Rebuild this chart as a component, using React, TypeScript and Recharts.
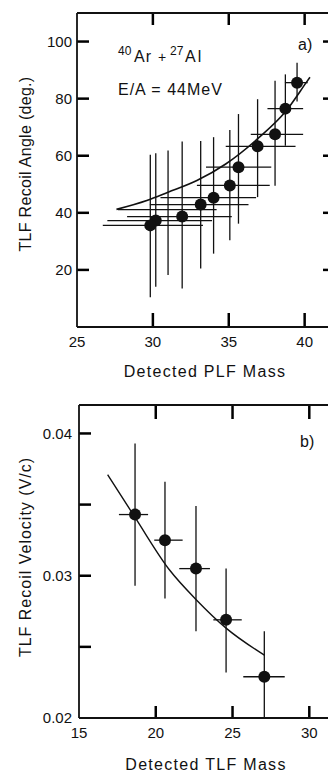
import { ComposedChart, Scatter, Line, XAxis, YAxis, ErrorBar, ReferenceLine } from 'recharts'

// two-panel TLF recoil plot, a) angle vs PLF mass, b) velocity vs TLF mass

const FONT = '"Liberation Sans", Arial, sans-serif'
const INK = '#111'

// ---- panel a)
const plfMass = [39.5, 38.73, 38.05, 36.9, 35.64, 35.07, 34.0, 33.15, 31.93, 30.19, 29.83]
const plfMassLow = [38.7, 37.55, 36.45, 34.8, 33.5, 32.9, 30.5, 29.8, 28.3, 27.0, 26.7]
const plfMassHigh = [40.2, 39.9, 39.9, 39.4, 37.8, 37.7, 36.8, 36.3, 35.2, 33.9, 33.3]
const recoilAngle = [85.6, 76.5, 67.5, 63.3, 56.0, 49.6, 45.3, 42.9, 38.7, 37.3, 35.6]
const angleLow = [79.0, 63.5, 49.5, 45.5, 36.2, 30.4, 25.7, 20.5, 13.5, 14.1, 10.4]
const angleHigh = [92.6, 88.5, 86.3, 79.8, 74.6, 69.0, 66.5, 65.2, 65.0, 60.9, 60.3]
// one cross in the plot has no dot on it
const bareMass = [31.0]
const bareMassLow = [27.7]
const bareMassHigh = [34.2]
const bareAngle = [41.1]
const bareAngleLow = [18.2]
const bareAngleHigh = [61.8]
// fitted curve
const angleFitMass = [27.6, 29.6, 31.0, 32.9, 34.8, 37.0, 38.7, 40.1, 40.35]
const angleFit = [41.2, 44.3, 47.2, 51.3, 57.1, 66.4, 75.2, 85.6, 87.5]
const plfTicks = [25, 30, 35, 40]
const plfInnerTicks = [30, 35, 40]
const angleTicks = [20, 40, 60, 80, 100]

// ---- panel b)
const tlfMass = [18.65, 20.6, 22.62, 24.58, 27.07]
const tlfMassLow = [17.6, 19.9, 21.53, 23.75, 25.7]
const tlfMassHigh = [19.5, 21.75, 23.53, 25.6, 28.4]
const recoilVel = [0.0343, 0.0325, 0.0305, 0.0269, 0.0229]
const velLow = [0.0293, 0.0284, 0.0261, 0.0232, 0.02]
const velHigh = [0.0393, 0.0366, 0.0349, 0.0305, 0.0261]
const velFitMass = [16.87, 18.65, 20.9, 22.65, 24.6, 27.1]
const velFit = [0.0371, 0.0341, 0.0304, 0.0283, 0.0263, 0.0244]
const tlfTicks = [15, 20, 25, 30]
const tlfInnerTicks = [20, 25, 30]
const velTicks = [0.02, 0.03, 0.04]
const velInnerTicks = [0.025, 0.03, 0.035, 0.04]

const rows = (x: number[], xl: number[], xh: number[], y: number[], yl: number[], yh: number[]) =>
  x.map((v, i) => ({ x: v, y: y[i], ex: [v - xl[i], xh[i] - v], ey: [y[i] - yl[i], yh[i] - y[i]] }))
const curve = (x: number[], y: number[]) => x.map((v, i) => ({ x: v, y: y[i] }))

const angleData = rows(plfMass, plfMassLow, plfMassHigh, recoilAngle, angleLow, angleHigh)
const bareData = rows(bareMass, bareMassLow, bareMassHigh, bareAngle, bareAngleLow, bareAngleHigh)
const angleCurve = curve(angleFitMass, angleFit)
const velData = rows(tlfMass, tlfMassLow, tlfMassHigh, recoilVel, velLow, velHigh)
const velCurve = curve(velFitMass, velFit)

const dot = (p: any) => <circle cx={p.cx} cy={p.cy} r={6} fill={INK} />
const noDot = () => <g />
const stroke = { stroke: INK, strokeWidth: 1.8 }
const tickStroke = { stroke: '#000', strokeWidth: 2.5 }
const tickText = { fontSize: 15, fontFamily: FONT, fill: INK }
const bar = { stroke: INK, strokeWidth: 1.3, width: 0, isAnimationActive: false }
const labelAxis = { axisLine: stroke, tickLine: false, tickSize: 0, interval: 0 as const, allowDataOverflow: true }
const frameAxis = { axisLine: stroke, tickLine: false, tick: false, interval: 0 as const, allowDataOverflow: true }

type Box = { x: [number, number]; y: [number, number]; w: number; h: number }
type Pt = { x: number; y: number }

// inward tick marks of the frame, lengths given in px and turned into data units of the panel
function innerTicks(b: Box, xs: number[], ys: number[], len: { bottom: number; top: number; side: number }) {
  const dx = (px: number) => (px * (b.x[1] - b.x[0])) / b.w
  const dy = (px: number) => (px * (b.y[1] - b.y[0])) / b.h
  const segs: [Pt, Pt][] = []
  xs.forEach((x) => {
    segs.push([{ x, y: b.y[0] }, { x, y: b.y[0] + dy(len.bottom) }])
    segs.push([{ x, y: b.y[1] - dy(len.top) }, { x, y: b.y[1] }])
  })
  ys.forEach((y) => {
    segs.push([{ x: b.x[0], y }, { x: b.x[0] + dx(len.side), y }])
    segs.push([{ x: b.x[1] - dx(len.side), y }, { x: b.x[1], y }])
  })
  return segs.map((s, i) => (
    <ReferenceLine key={`t${i}`} xAxisId="b" yAxisId="l" segment={s} ifOverflow="visible" {...tickStroke} />
  ))
}

const angleBox: Box = { x: [25, 42], y: [0, 110], w: 258, h: 314 }
const velBox: Box = { x: [15, 32], y: [0.02, 0.042], w: 261, h: 313 }

function AnglePanel() {
  return (
    <ComposedChart width={348} height={400} margin={{ top: 12, right: 12, bottom: 0, left: 0 }}>
      <XAxis xAxisId="b" dataKey="x" type="number" domain={angleBox.x} ticks={plfTicks} height={73}
        tickMargin={9} tick={tickText} {...labelAxis} />
      <XAxis xAxisId="t" orientation="top" dataKey="x" type="number" domain={angleBox.x} height={1} {...frameAxis} />
      <YAxis yAxisId="l" type="number" domain={angleBox.y} ticks={angleTicks} width={77}
        tickMargin={5} tick={tickText} {...labelAxis} />
      <YAxis yAxisId="r" orientation="right" type="number" domain={angleBox.y} width={1} {...frameAxis} />
      {innerTicks(angleBox, plfInnerTicks, angleTicks, { bottom: 14, top: 12, side: 12 })}
      <Scatter xAxisId="b" yAxisId="l" data={angleData} dataKey="y" shape={dot} isAnimationActive={false}>
        <ErrorBar dataKey="ey" direction="y" {...bar} />
        <ErrorBar dataKey="ex" direction="x" {...bar} />
      </Scatter>
      <Scatter xAxisId="b" yAxisId="l" data={bareData} dataKey="y" shape={noDot} isAnimationActive={false}>
        <ErrorBar dataKey="ey" direction="y" {...bar} />
        <ErrorBar dataKey="ex" direction="x" {...bar} />
      </Scatter>
      {/* keeps the top and right frame axes attached to data */}
      <Scatter xAxisId="t" yAxisId="r" data={angleCurve} dataKey="y" shape={noDot} isAnimationActive={false} />
      <Line xAxisId="b" yAxisId="l" data={angleCurve} dataKey="y" type="monotone" stroke={INK} strokeWidth={1.6}
        dot={false} activeDot={false} isAnimationActive={false} />
    </ComposedChart>
  )
}

function VelocityPanel() {
  return (
    <ComposedChart width={353} height={385} margin={{ top: 14, right: 12, bottom: 0, left: 0 }}>
      <XAxis xAxisId="b" dataKey="x" type="number" domain={velBox.x} ticks={tlfTicks} height={57}
        tickMargin={9} tick={tickText} {...labelAxis} />
      <XAxis xAxisId="t" orientation="top" dataKey="x" type="number" domain={velBox.x} height={1} {...frameAxis} />
      <YAxis yAxisId="l" type="number" domain={velBox.y} ticks={velTicks} width={79}
        tickMargin={7} tickFormatter={(v: number) => v.toFixed(2)} tick={tickText} {...labelAxis} />
      <YAxis yAxisId="r" orientation="right" type="number" domain={velBox.y} width={1} {...frameAxis} />
      {innerTicks(velBox, tlfInnerTicks, velInnerTicks, { bottom: 12, top: 14, side: 12 })}
      <Scatter xAxisId="b" yAxisId="l" data={velData} dataKey="y" shape={dot} isAnimationActive={false}>
        <ErrorBar dataKey="ey" direction="y" {...bar} />
        <ErrorBar dataKey="ex" direction="x" {...bar} />
      </Scatter>
      <Scatter xAxisId="t" yAxisId="r" data={velCurve} dataKey="y" shape={noDot} isAnimationActive={false} />
      <Line xAxisId="b" yAxisId="l" data={velCurve} dataKey="y" type="monotone" stroke={INK} strokeWidth={1.4}
        dot={false} activeDot={false} isAnimationActive={false} />
    </ComposedChart>
  )
}

export default function App() {
  return (
    <div style={{ position: 'absolute', left: 0, top: 0, width: 328, height: 775, overflow: 'hidden', background: '#fff' }}>
      <div style={{ position: 'absolute', left: 0, top: 0 }}>
        <AnglePanel />
      </div>
      <div style={{ position: 'absolute', left: 0, top: 390 }}>
        <VelocityPanel />
      </div>
      <svg width={328} height={775} style={{ position: 'absolute', left: 0, top: 0, pointerEvents: 'none' }}
        fontFamily={FONT} fill={INK}>
        <text x={118} y={55} fontSize={12}>40</text>
        <text x={134} y={62} fontSize={16} letterSpacing={1}>Ar</text>
        <text x={158} y={62} fontSize={14}>+</text>
        <text x={170} y={55} fontSize={12}>27</text>
        <text x={185} y={62} fontSize={16} letterSpacing={2}>Al</text>
        <text x={118} y={95} fontSize={16} letterSpacing={1}>E/A = 44MeV</text>
        <text x={298} y={50} fontSize={16}>a)</text>
        <text x={300} y={447} fontSize={16}>b)</text>
        <text transform="translate(25,164) rotate(-90)" textAnchor="middle" dominantBaseline="central"
          fontSize={16} letterSpacing={0.3}>TLF Recoil Angle (deg.)</text>
        <text transform="translate(25,557) rotate(-90)" textAnchor="middle" dominantBaseline="central"
          fontSize={16} letterSpacing={1}>TLF Recoil Velocity (V/c)</text>
        <text x={205} y={377} textAnchor="middle" fontSize={16} letterSpacing={1.3}>Detected PLF Mass</text>
        <text x={206} y={770} textAnchor="middle" fontSize={16} letterSpacing={1.3}>Detected TLF Mass</text>
      </svg>
    </div>
  )
}
